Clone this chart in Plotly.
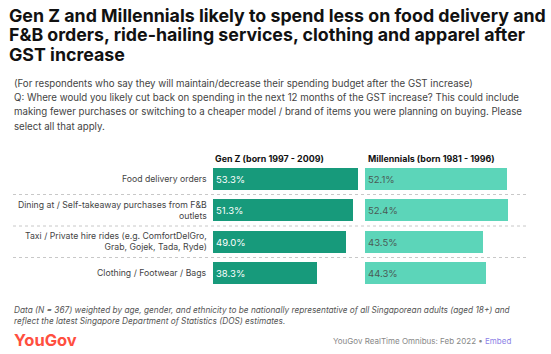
import plotly.graph_objects as go

categories = [
    "Food delivery orders",
    "Dining at / Self-takeaway purchases from F&B<br>outlets",
    "Taxi / Private hire rides (e.g. ComfortDelGro,<br>Grab, Gojek, Tada, Ryde)",
    "Clothing / Footwear / Bags",
]
genz = [53.3, 51.3, 49.0, 38.3]
millennials = [52.1, 52.4, 43.5, 44.3]
series_names = ["Gen Z (born 1997 - 2009)", "Millennials (born 1981 - 1996)"]

W, H = 551, 354
def px(x): return x / W
def py(y): return 1 - y / H

FONT = "Inter, Roboto, sans-serif"
pos = list(range(len(categories)))

fig = go.Figure()
fig.add_trace(go.Bar(
    x=genz, y=pos, orientation="h", xaxis="x", yaxis="y",
    marker=dict(color="#179a7b", line=dict(width=0)), width=0.7,
    text=[f"{v:.1f}%" for v in genz], textposition="inside",
    insidetextanchor="start", textangle=0,
    textfont=dict(color="white", size=9.5, family=FONT),
    constraintext="none", showlegend=False, hoverinfo="skip",
))
fig.add_trace(go.Bar(
    x=millennials, y=pos, orientation="h", xaxis="x2", yaxis="y",
    marker=dict(color="#5cd5b9", line=dict(width=0)), width=0.7,
    text=[f"{v:.1f}%" for v in millennials], textposition="inside",
    insidetextanchor="start", textangle=0,
    textfont=dict(color="#4a5a55", size=9.5, family=FONT),
    constraintext="none", showlegend=False, hoverinfo="skip",
))

xmax = 146 / 2.72
fig.update_layout(
    width=W, height=H, margin=dict(l=0, r=0, t=0, b=0),
    paper_bgcolor="white", plot_bgcolor="white",
    xaxis=dict(domain=[px(213), px(359)], range=[0, xmax], visible=False, fixedrange=True),
    xaxis2=dict(domain=[px(365), px(511)], range=[0, xmax], visible=False, fixedrange=True),
    yaxis=dict(domain=[py(289), py(163)], range=[3.5, -0.5], visible=False, fixedrange=True),
    bargap=0, font=dict(family=FONT),
    uniformtext=dict(mode=False),
)

shapes = []
for b in [0.5, 1.5, 2.5]:
    shapes.append(dict(type="line", xref="paper", yref="y", x0=px(13), x1=px(527), y0=b, y1=b,
                       line=dict(color="#c8c8c8", width=1, dash="dot")))
fig.update_layout(shapes=shapes)

ann = []
title_lines = [
    "Gen Z and Millennials likely to spend less on food delivery and",
    "F&B orders, ride-hailing services, clothing and apparel after",
    "GST increase",
]
for i, t in enumerate(title_lines):
    ann.append(dict(text=f"<b>{t}</b>", x=px(7), y=py(15 + i * 19.5), xref="paper", yref="paper",
                    xanchor="left", yanchor="middle", showarrow=False,
                    font=dict(size=17.8, color="#111", family=FONT)))
sub_lines = [
    "(For respondents who say they will maintain/decrease their spending budget after the GST increase)",
    "Q: Where would you likely cut back on spending in the next 12 months of the GST increase? This could include",
    "making fewer purchases or switching to a cheaper model / brand of items you were planning on buying. Please",
    "select all that apply.",
]
for i, t in enumerate(sub_lines):
    ann.append(dict(text=t, x=px(12), y=py(83 + i * 14.5), xref="paper", yref="paper",
                    xanchor="left", yanchor="middle", showarrow=False,
                    font=dict(size=9.7, color="#444", family=FONT)))
for name, x in zip(series_names, [213, 366]):
    ann.append(dict(text=f"<b>{name}</b>", x=px(x), y=py(158), xref="paper", yref="paper",
                    xanchor="left", yanchor="middle", showarrow=False,
                    font=dict(size=8.9, color="#111", family=FONT)))
for c, p in zip(categories, pos):
    ann.append(dict(text=c, x=px(209), y=p, xref="paper", yref="y", xanchor="right",
                    yanchor="middle", align="right", showarrow=False,
                    font=dict(size=8.7, color="#444", family=FONT)))
foot = [
    "Data (N = 367) weighted by age, gender, and ethnicity to be nationally representative of all Singaporean adults (aged 18+) and",
    "reflect the latest Singapore Department of Statistics (DOS) estimates.",
]
for i, t in enumerate(foot):
    ann.append(dict(text=f"<i>{t}</i>", x=px(12), y=py(310 + i * 10.5), xref="paper", yref="paper",
                    xanchor="left", yanchor="middle", showarrow=False,
                    font=dict(size=8.25, color="#555", family=FONT)))
ann.append(dict(text="<b>YouGov</b>", x=px(12), y=py(340), xref="paper", yref="paper",
                xanchor="left", yanchor="middle", showarrow=False,
                font=dict(size=16.5, color="#ff4f3f", family=FONT)))
ann.append(dict(text="YouGov RealTime Omnibus: Feb 2022 • <span style='color:#8c82e6'>Embed</span>",
                x=px(513), y=py(341), xref="paper", yref="paper",
                xanchor="right", yanchor="middle", showarrow=False,
                font=dict(size=8, color="#888", family=FONT)))
fig.update_layout(annotations=ann)

fig.write_html("out.html")
